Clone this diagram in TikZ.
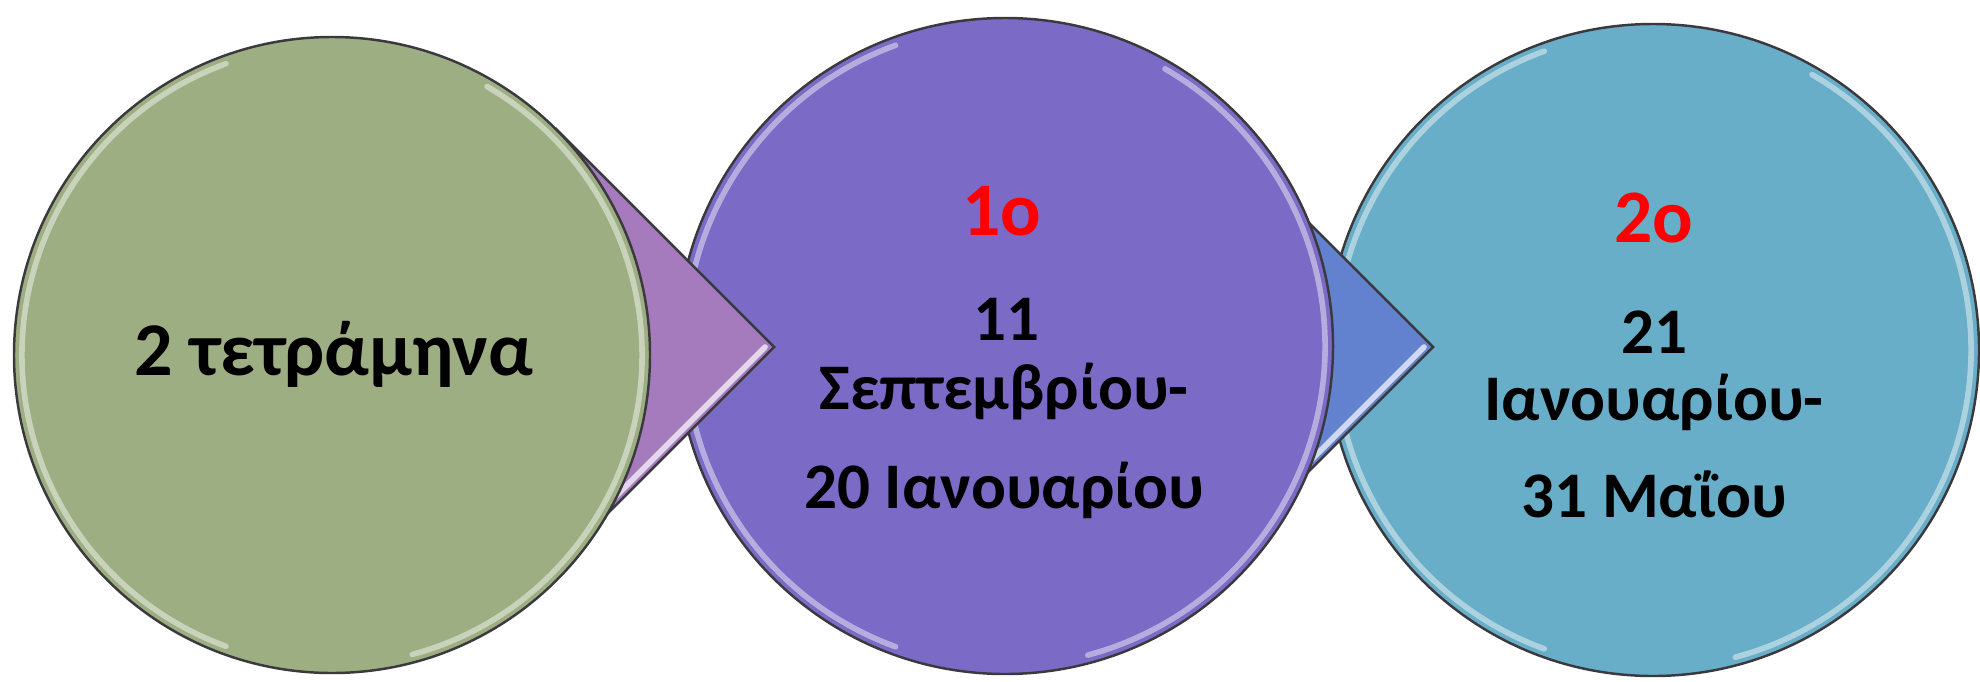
\documentclass[tikz,border=0pt]{standalone}
\usepackage{fontspec}
\setmainfont{Carlito}
\usepackage{tikz}
\usetikzlibrary{calc}

\definecolor{fillA}{RGB}{157,174,130}
\definecolor{fillB}{RGB}{123,106,198}
\definecolor{fillC}{RGB}{104,174,200}
\definecolor{wedgeA}{RGB}{165,123,190}
\definecolor{wedgeB}{RGB}{98,130,207}
\definecolor{rim}{RGB}{58,58,62}

\begin{document}
\begin{tikzpicture}[x=0.01cm, y=0.01cm,
  ball/.style={draw=rim, line width=0.7pt},
  wedge/.style={draw=rim, line width=0.7pt, line join=miter},
  gloss/.style={white, opacity=0.45, line width=1.6pt, line cap=round},
  lbl/.style={anchor=base, inner sep=0pt, font=\bfseries\fontsize{18.5}{22}\selectfont},
  big/.style={lbl, font=\bfseries\fontsize{21.6}{26}\selectfont},
  num/.style={lbl, text=red, font=\bfseries\fontsize{21.5}{26}\selectfont}]
\useasboundingbox (0,0) rectangle (1980,681);
% centres and arrow tips
\coordinate (c1) at (332,326);
\coordinate (c2) at (1005,335);
\coordinate (c3) at (1653,331);
\coordinate (t1) at (774,334);
\coordinate (t2) at (1433,334);
% third circle
\draw [ball, fill=fillC] (c3) circle [radius=326];
\draw [gloss] (c3) ++(110:318) arc [start angle=110, end angle=250, radius=318];
\draw [gloss] (c3) ++(-75:318) arc [start angle=-75, end angle=60, radius=318];
% arrow 2
\draw [wedge, fill=wedgeB] (t2) -- ++(-214,214) -- ++(0,-428) -- cycle;
\draw [gloss, opacity=0.7] ($(t2)+(-9,0)$) -- ++(-200,-200);
% second circle
\draw [ball, fill=fillB] (c2) circle [radius=328];
\draw [gloss] (c2) ++(110:320) arc [start angle=110, end angle=250, radius=320];
\draw [gloss] (c2) ++(-75:320) arc [start angle=-75, end angle=60, radius=320];
% arrow 1
\draw [wedge, fill=wedgeA] (t1) -- ++(-217,217) -- ++(0,-434) -- cycle;
\draw [gloss, opacity=0.7] ($(t1)+(-9,0)$) -- ++(-200,-200);
% first circle
\draw [ball, fill=fillA] (c1) circle [radius=318];
\draw [gloss] (c1) ++(110:310) arc [start angle=110, end angle=250, radius=310];
\draw [gloss] (c1) ++(-75:310) arc [start angle=-75, end angle=60, radius=310];
% texts
\node [big] (n0) at (334,306) {2 τετράμηνα};
\node [num] (n1) at (1002,446) {1ο};
\node [lbl] (n1a) at (1006,341) {11};
\node [lbl] (n1b) at (1004,272) {Σεπτεμβρίου-};
\node [lbl] (n1c) at (1004,173) {20 Ιανουαρίου};
\node [num] (n2) at (1654,439) {2ο};
\node [lbl] (n2a) at (1654,328) {21};
\node [lbl] (n2b) at (1654,261) {Ιανουαρίου-};
\node [lbl] (n2c) at (1654,164) {31 Μαΐου};
\end{tikzpicture}
\end{document}
